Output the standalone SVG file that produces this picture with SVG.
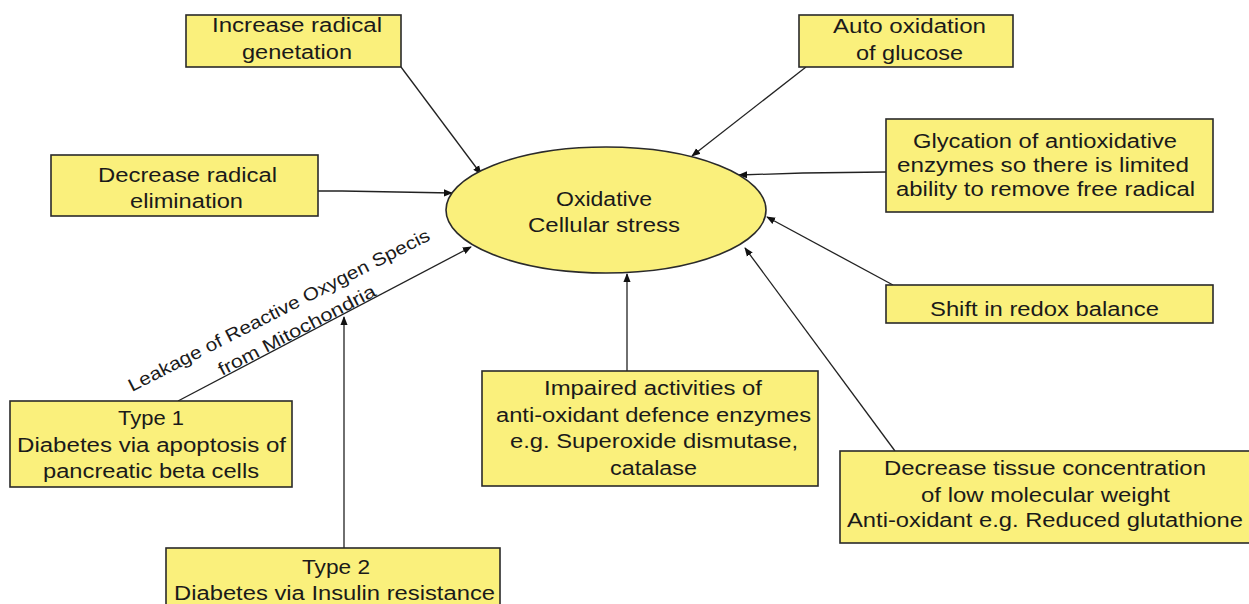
<svg xmlns="http://www.w3.org/2000/svg" width="1249" height="604" viewBox="0 0 1249 604">
<style>
.box{fill:#FAF07C;stroke:#2a2a2a;stroke-width:1.6}
.t{font-family:"Liberation Sans",Arial,sans-serif;font-size:20px;fill:#1a1a1a;text-anchor:start}
.ln{stroke:#222;stroke-width:1.3;fill:none}
.lbl{font-family:"Liberation Sans",Arial,sans-serif;font-size:18px;fill:#1a1a1a}
</style>
<defs>
<marker id="ah" viewBox="0 0 10 10" refX="9" refY="5" markerWidth="9" markerHeight="9" markerUnits="userSpaceOnUse" orient="auto">
<path d="M0,1 L10,5 L0,9 Z" fill="#111"/>
</marker>
</defs>
<rect width="1249" height="604" fill="#ffffff"/>
<g id="connectors">
<line class="ln" x1="401" y1="67" x2="481" y2="174" marker-end="url(#ah)"/>
<polyline class="ln" points="318,191 342,191 452,193" marker-end="url(#ah)"/>
<line class="ln" x1="806" y1="67" x2="692" y2="156" marker-end="url(#ah)"/>
<polyline class="ln" points="886,172 803,173 739,175" marker-end="url(#ah)"/>
<line class="ln" x1="893" y1="285" x2="767" y2="217" marker-end="url(#ah)"/>
<line class="ln" x1="627" y1="371" x2="627" y2="274" marker-end="url(#ah)"/>
<line class="ln" x1="895" y1="451" x2="745" y2="248" marker-end="url(#ah)"/>
<line class="ln" x1="178" y1="401" x2="471" y2="247" marker-end="url(#ah)"/>
<line class="ln" x1="344" y1="548" x2="344" y2="317" marker-end="url(#ah)"/>
<text class="lbl" transform="translate(132,392) rotate(-27)" textLength="336" lengthAdjust="spacingAndGlyphs">Leakage of Reactive Oxygen Specis</text>
<text class="lbl" transform="translate(222,376) rotate(-27.5)" textLength="175" lengthAdjust="spacingAndGlyphs">from Mitochondria</text>
</g>
<g id="center">
<ellipse class="box" cx="606" cy="210" rx="160" ry="63"/>
<text class="t" x="556" y="206" textLength="96" lengthAdjust="spacingAndGlyphs">Oxidative</text>
<text class="t" x="528" y="232" textLength="152" lengthAdjust="spacingAndGlyphs">Cellular stress</text>
</g>
<g id="increase">
<rect class="box" x="186" y="15" width="215" height="52"/>
<text class="t" x="212" y="32" textLength="170" lengthAdjust="spacingAndGlyphs">Increase radical</text>
<text class="t" x="242" y="59" textLength="110" lengthAdjust="spacingAndGlyphs">genetation</text>
</g>
<g id="decrease">
<rect class="box" x="51" y="155" width="267" height="61"/>
<text class="t" x="98" y="182" textLength="179" lengthAdjust="spacingAndGlyphs">Decrease radical</text>
<text class="t" x="130" y="208" textLength="113" lengthAdjust="spacingAndGlyphs">elimination</text>
</g>
<g id="auto">
<rect class="box" x="799" y="15" width="214" height="52"/>
<text class="t" x="833" y="33" textLength="153" lengthAdjust="spacingAndGlyphs">Auto oxidation</text>
<text class="t" x="856" y="60" textLength="107" lengthAdjust="spacingAndGlyphs">of glucose</text>
</g>
<g id="glycation">
<rect class="box" x="886" y="119" width="327" height="93"/>
<text class="t" x="913" y="148" textLength="264" lengthAdjust="spacingAndGlyphs">Glycation of antioxidative</text>
<text class="t" x="897" y="172" textLength="292" lengthAdjust="spacingAndGlyphs">enzymes so there is limited</text>
<text class="t" x="896" y="196" textLength="299" lengthAdjust="spacingAndGlyphs">ability to remove free radical</text>
</g>
<g id="shift">
<rect class="box" x="886" y="285" width="327" height="38"/>
<text class="t" x="930" y="316" textLength="229" lengthAdjust="spacingAndGlyphs">Shift in redox balance</text>
</g>
<g id="impaired">
<rect class="box" x="482" y="371" width="336" height="115"/>
<text class="t" x="544" y="395" textLength="218" lengthAdjust="spacingAndGlyphs">Impaired activities of</text>
<text class="t" x="496" y="422" textLength="315" lengthAdjust="spacingAndGlyphs">anti-oxidant defence enzymes</text>
<text class="t" x="510" y="448" textLength="288" lengthAdjust="spacingAndGlyphs">e.g. Superoxide dismutase,</text>
<text class="t" x="610" y="475" textLength="87" lengthAdjust="spacingAndGlyphs">catalase</text>
</g>
<g id="tissue">
<rect class="box" x="840" y="451" width="412" height="92"/>
<text class="t" x="884" y="475" textLength="322" lengthAdjust="spacingAndGlyphs">Decrease tissue concentration</text>
<text class="t" x="921" y="502" textLength="249" lengthAdjust="spacingAndGlyphs">of low molecular weight</text>
<text class="t" x="847" y="527" textLength="396" lengthAdjust="spacingAndGlyphs">Anti-oxidant e.g. Reduced glutathione</text>
</g>
<g id="type1">
<rect class="box" x="10" y="401" width="282" height="86"/>
<text class="t" x="118" y="425" textLength="66" lengthAdjust="spacingAndGlyphs">Type 1</text>
<text class="t" x="17" y="452" textLength="269" lengthAdjust="spacingAndGlyphs">Diabetes via apoptosis of</text>
<text class="t" x="43" y="478" textLength="216" lengthAdjust="spacingAndGlyphs">pancreatic beta cells</text>
</g>
<g id="type2">
<rect class="box" x="166" y="548" width="334" height="70"/>
<text class="t" x="302" y="574" textLength="68" lengthAdjust="spacingAndGlyphs">Type 2</text>
<text class="t" x="174" y="600" textLength="321" lengthAdjust="spacingAndGlyphs">Diabetes via Insulin resistance</text>
</g>
</svg>
